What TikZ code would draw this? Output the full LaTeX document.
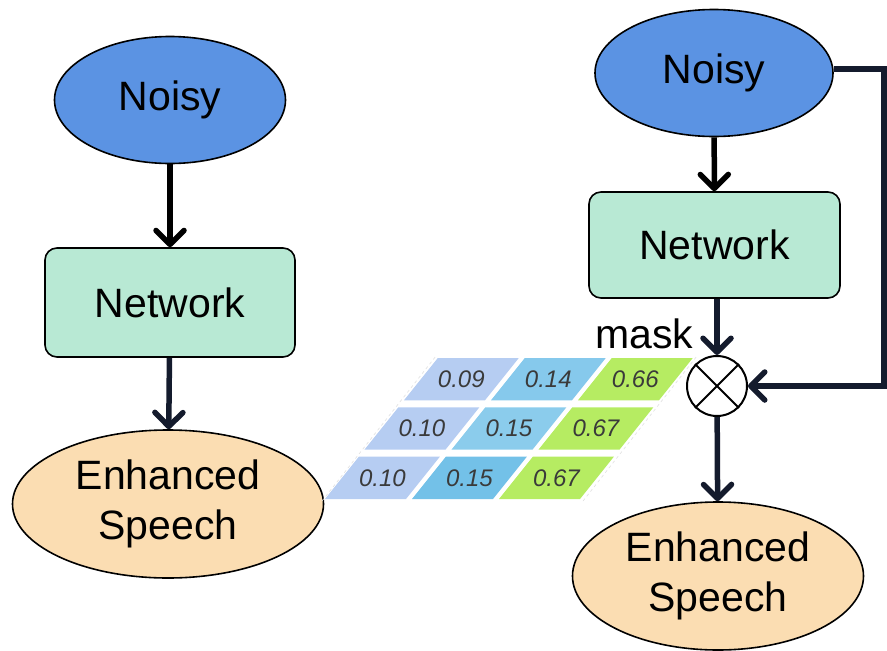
\documentclass[tikz,border=0pt]{standalone}
\usepackage{fontspec}
\setmainfont{Liberation Sans}
\usetikzlibrary{shapes.geometric,arrows.meta,calc}
\definecolor{noisyblue}{HTML}{5B93E3}
\definecolor{netgreen}{HTML}{B8E9D4}
\definecolor{enhpeach}{HTML}{FBDDB2}
\definecolor{navy}{HTML}{141B2D}
\definecolor{cA}{HTML}{B6CDF2}
\definecolor{cBa}{HTML}{86C9EC}
\definecolor{cBb}{HTML}{8BCCEC}
\definecolor{cBc}{HTML}{73C1E8}
\definecolor{cC}{HTML}{B6EC62}
\definecolor{numgray}{HTML}{3A3A3A}
\tikzset{
  bigtext/.style={font=\fontsize{41}{50}\selectfont},
  noisynode/.style={ellipse,draw=black,line width=1.6pt,fill=noisyblue,inner sep=0pt,bigtext},
  netnode/.style={rectangle,rounded corners=12pt,draw=black,line width=1.6pt,fill=netgreen,inner sep=0pt,bigtext},
  enhnode/.style={ellipse,draw=black,line width=1.6pt,fill=enhpeach,inner sep=0pt,align=center,bigtext},
  arr/.style={line width=5.5pt,-{Straight Barb[length=14pt,width=28pt,line width=5.5pt,round]}},
  numtext/.style={font=\fontsize{24}{28}\selectfont\itshape,text=numgray,inner sep=0pt},
}
\begin{document}
\begin{tikzpicture}[x=1pt,y=-1pt]
\useasboundingbox (0,0) rectangle (887,651);
% left column
\node[noisynode,minimum width=231pt,minimum height=127pt] (ln) at (170,100) {Noisy};
\node[netnode,minimum width=250pt,minimum height=109pt] (lnet) at (170,302.5) {Network};
\node[enhnode,minimum width=311pt,minimum height=148pt] (le) at (168,504) {Enhanced\\Speech};
\draw[arr,black] (ln) -- (lnet);
\draw[arr,navy] (lnet) -- (le);
% right column
\node[noisynode,minimum width=238pt,minimum height=127pt] (rn) at (714,73) {Noisy};
\node[netnode,minimum width=251pt,minimum height=106pt] (rnet) at (714.5,245) {Network};
\node[circle,draw=black,line width=2pt,fill=white,minimum size=60pt,inner sep=0pt] (ot) at (717,386) {};
\draw[line width=2pt] (ot.north west) -- (ot.south east) (ot.north east) -- (ot.south west);
\node[enhnode,minimum width=291pt,minimum height=148pt] (re) at (718,576) {Enhanced\\Speech};
\node[bigtext,inner sep=0pt,anchor=base west] (mask) at (595,348) {mask};
\draw[arr,black] (rn) -- (rnet);
\draw[arr,navy] (rnet.south -| ot.north) -- (ot.north);
\draw[arr,navy] (ot) -- (re);
\coordinate (fb) at (884,200);
\draw[arr,navy,line join=miter] ([yshift=4pt]rn.east) -| (fb) |- (ot.east);
% mask grid
\foreach \r/\c/\col/\val in {0/0/cA/0.10,0/1/cBc/0.15,0/2/cC/0.67,
                              1/0/cA/0.10,1/1/cBb/0.15,1/2/cC/0.67,
                              2/0/cA/0.09,2/1/cBa/0.14,2/2/cC/0.66}{
  \pgfmathsetmacro\uA{\c*87}
  \pgfmathsetmacro\vA{\r*49.3}
  \fill[\col] ({325+\uA+0.8*\vA},{499-\vA}) -- ++(81,0) -- ++({0.8*42.3},-42.3) -- ++(-81,0) -- cycle;
  \node[numtext] (v\r\c) at ({325+\uA+40.5+0.8*(\vA+21.15)},{499-\vA-21.15}) {\val};
}
\draw[gray!25,dashed,line width=0.6pt] (322,501) -- (436,356);
\draw[gray!25,dashed,line width=0.6pt] (583,501) -- (697,356);
\end{tikzpicture}
\end{document}
